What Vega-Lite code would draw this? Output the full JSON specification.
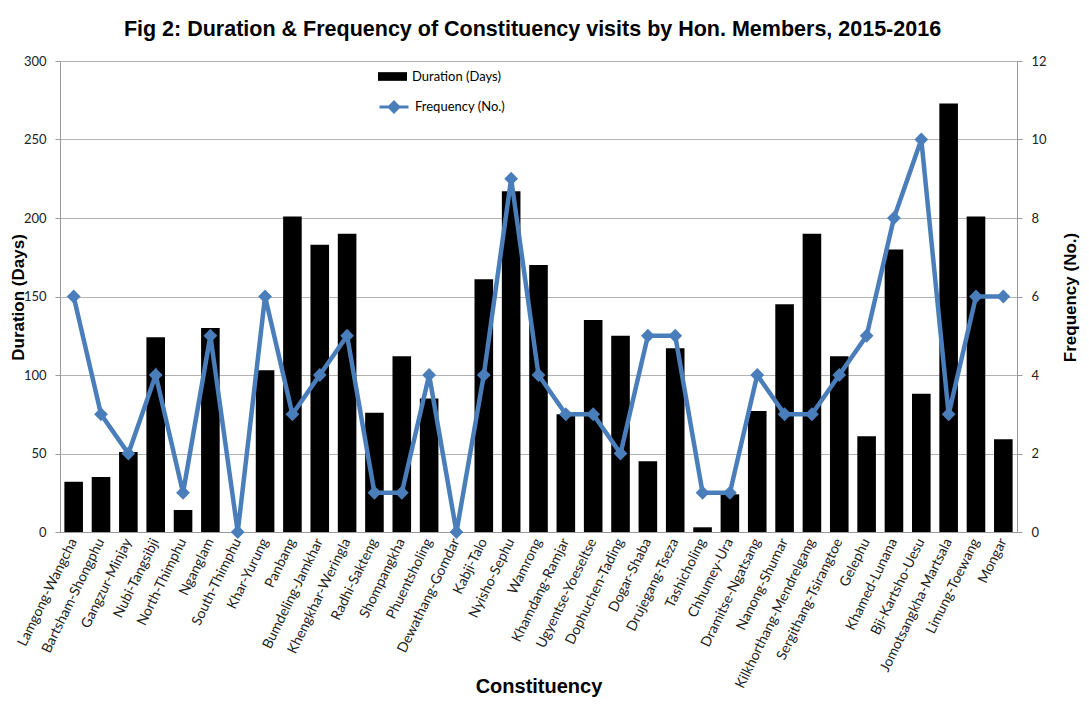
{
  "$schema": "https://vega.github.io/schema/vega-lite/v6.json",
  "width": 957,
  "height": 471,
  "autosize": {"type": "none"},
  "padding": {"left": 60, "top": 61, "right": 72, "bottom": 177},
  "background": "white",
  "title": {
    "text": "Fig 2: Duration & Frequency of Constituency visits by Hon. Members, 2015-2016",
    "font": "Liberation Sans",
    "fontSize": 21.5,
    "fontWeight": "bold",
    "color": "black",
    "offset": 15,
    "anchor": "middle",
    "dx": -6
  },
  "config": {
    "view": {"stroke": null},
    "axis": {
      "labelFont": "Lato",
      "labelFontSize": 13,
      "labelColor": "#222222",
      "titleFont": "Liberation Sans",
      "titleFontWeight": "bold",
      "titleColor": "black",
      "domainColor": "#9a9a9a",
      "tickColor": "#9a9a9a",
      "gridColor": "#b3b3b3"
    }
  },
  "data": {
    "values": [
      {"name": "Lamgong-Wangcha", "duration": 32, "frequency": 6},
      {"name": "Bartsham-Shongphu", "duration": 35, "frequency": 3},
      {"name": "Gangzur-Minjay", "duration": 51, "frequency": 2},
      {"name": "Nubi-Tangsibji", "duration": 124, "frequency": 4},
      {"name": "North-Thimphu", "duration": 14, "frequency": 1},
      {"name": "Nganglam", "duration": 130, "frequency": 5},
      {"name": "South-Thimphu", "duration": 0, "frequency": 0},
      {"name": "Khar-Yurung", "duration": 103, "frequency": 6},
      {"name": "Panbang", "duration": 201, "frequency": 3},
      {"name": "Bumdeling-Jamkhar", "duration": 183, "frequency": 4},
      {"name": "Khengkhar-Weringla", "duration": 190, "frequency": 5},
      {"name": "Radhi-Sakteng", "duration": 76, "frequency": 1},
      {"name": "Shompangkha", "duration": 112, "frequency": 1},
      {"name": "Phuentsholing", "duration": 85, "frequency": 4},
      {"name": "Dewathang-Gomdar", "duration": 0, "frequency": 0},
      {"name": "Kabji-Talo", "duration": 161, "frequency": 4},
      {"name": "Nyisho-Sephu", "duration": 217, "frequency": 9},
      {"name": "Wamrong", "duration": 170, "frequency": 4},
      {"name": "Khamdang-Ramjar", "duration": 75, "frequency": 3},
      {"name": "Ugyentse-Yoeseltse", "duration": 135, "frequency": 3},
      {"name": "Dophuchen-Tading", "duration": 125, "frequency": 2},
      {"name": "Dogar-Shaba", "duration": 45, "frequency": 5},
      {"name": "Drujegang-Tseza", "duration": 117, "frequency": 5},
      {"name": "Tashicholing", "duration": 3, "frequency": 1},
      {"name": "Chhumey-Ura", "duration": 24, "frequency": 1},
      {"name": "Dramitse-Ngatsang", "duration": 77, "frequency": 4},
      {"name": "Nanong-Shumar", "duration": 145, "frequency": 3},
      {"name": "Kilkhorthang-Mendrelgang", "duration": 190, "frequency": 3},
      {"name": "Sergithang-Tsirangtoe", "duration": 112, "frequency": 4},
      {"name": "Gelephu", "duration": 61, "frequency": 5},
      {"name": "Khamed-Lunana", "duration": 180, "frequency": 8},
      {"name": "Bji-Kartsho-Uesu", "duration": 88, "frequency": 10},
      {"name": "Jomotsangkha-Martsala", "duration": 273, "frequency": 3},
      {"name": "Limung-Toewang", "duration": 201, "frequency": 6},
      {"name": "Mongar", "duration": 59, "frequency": 6}
    ]
  },
  "encoding": {
    "x": {
      "field": "name",
      "type": "nominal",
      "sort": null,
      "scale": {"paddingInner": 0.32, "paddingOuter": 0.16},
      "axis": {
        "labelAngle": -64,
        "labelFontSize": 14,
        "title": "Constituency",
        "titleFontSize": 20,
        "titleY": 154,
        "titleBaseline": "middle",
        "ticks": false,
        "labelPadding": 7,
        "grid": false
      }
    }
  },
  "layer": [
    {
      "mark": {"type": "bar"},
      "encoding": {
        "y": {
          "field": "duration",
          "type": "quantitative",
          "scale": {"domain": [0, 300], "nice": false},
          "axis": {
            "values": [0, 50, 100, 150, 200, 250, 300],
            "title": "Duration (Days)",
            "titleFontSize": 17,
            "titleX": -42,
            "titleY": 236,
            "titleAlign": "center",
            "titleBaseline": "middle",
            "tickSize": 5,
            "labelPadding": 9,
            "grid": true
          }
        },
        "fill": {
          "datum": "Duration (Days)",
          "scale": {"range": ["black"]},
          "legend": {
            "orient": "none",
            "legendX": 318,
            "legendY": 1,
            "title": null,
            "symbolType": "M-1,-0.3H1V0.3H-1Z",
            "symbolSize": 841,
            "symbolStrokeWidth": 0,
            "labelFont": "Lato",
            "labelFontSize": 13,
            "labelColor": "black",
            "labelOffset": 5
          }
        }
      }
    },
    {
      "encoding": {
        "y": {
          "field": "frequency",
          "type": "quantitative",
          "scale": {"domain": [0, 12], "nice": false},
          "axis": {
            "orient": "right",
            "values": [0, 2, 4, 6, 8, 10, 12],
            "title": "Frequency (No.)",
            "titleFontSize": 17,
            "titleAngle": 270,
            "titleX": 53,
            "titleY": 236,
            "titleAlign": "center",
            "titleBaseline": "middle",
            "tickSize": 5,
            "labelPadding": 9,
            "grid": false
          }
        }
      },
      "layer": [
        {
          "mark": {"type": "line", "strokeWidth": 4.5},
          "encoding": {
            "stroke": {
              "datum": "Frequency (No.)",
              "scale": {"range": ["#4a7ebb"]},
              "legend": {
                "orient": "none",
                "legendX": 318,
                "legendY": 30,
                "title": null,
                "symbolType": "M-1,0H1M0,-0.33L0.33,0L0,0.33L-0.33,0Z",
                "symbolSize": 841,
                "symbolStrokeWidth": 3,
                "symbolFillColor": "#4a7ebb",
                "labelFont": "Lato",
                "labelFontSize": 13,
                "labelColor": "black",
                "labelOffset": 5
              }
            }
          }
        },
        {
          "mark": {"type": "point", "shape": "diamond", "filled": true, "size": 190, "color": "#4a7ebb", "opacity": 1},
          "encoding": {}
        }
      ]
    }
  ],
  "resolve": {"scale": {"y": "independent"}}
}
